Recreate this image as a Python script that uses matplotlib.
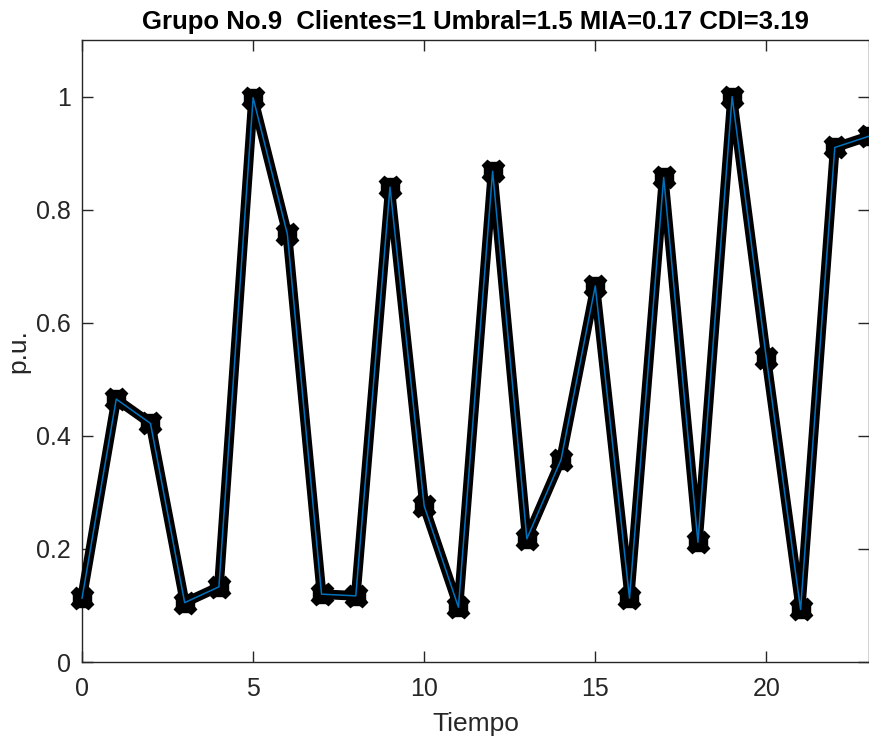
import matplotlib
matplotlib.use("Agg")
import matplotlib.pyplot as plt
from matplotlib.ticker import FuncFormatter

# Load profile of group 9 over time
tiempo = list(range(24))
carga = [0.113, 0.465, 0.422, 0.105, 0.133, 0.998, 0.757, 0.120, 0.117, 0.840,
         0.276, 0.097, 0.868, 0.218, 0.358, 0.665, 0.113, 0.857, 0.212, 1.000,
         0.537, 0.093, 0.910, 0.930]
xticks = [0, 5, 10, 15, 20]
yticks = [0, 0.2, 0.4, 0.6, 0.8, 1.0]
titulo = "Grupo No.9  Clientes=1 Umbral=1.5 MIA=0.17 CDI=3.19"

plt.rcParams['font.family'] = ['Liberation Sans', 'DejaVu Sans']

fig = plt.figure(figsize=(8.69, 7.42), dpi=100)
ax = fig.add_axes([0.0944, 0.1078, 0.9056, 0.8382])

# thick black trace with rounded markers, thin blue line on top
ax.plot(tiempo, carga, color='black', linewidth=7, solid_joinstyle='round',
        zorder=3, clip_on=False)
ax.plot(tiempo, carga, linestyle='none', marker='8', markersize=14,
        color='black', zorder=3, clip_on=False)
ax.plot(tiempo, carga, linestyle='none', marker='X', markersize=16,
        color='black', zorder=3, clip_on=False)
ax.plot(tiempo, carga, color='#0072BD', linewidth=1.1, zorder=4, clip_on=False)

ax.set_xlim(0, 23)
ax.set_ylim(0, 1.1)
ax.set_xticks(xticks)
ax.set_yticks(yticks)
ax.yaxis.set_major_formatter(FuncFormatter(lambda v, p: f"{v:g}"))

axc = '#262626'
for s in ax.spines.values():
    s.set_color(axc)
    s.set_linewidth(1.0)
ax.tick_params(direction='in', length=8, width=1.0, colors=axc, labelsize=18,
               top=True, right=True, pad=8)
ax.tick_params(axis='x', pad=11)
for lab in ax.get_xticklabels() + ax.get_yticklabels():
    lab.set_color(axc)

ax.set_xlabel("Tiempo", fontsize=19, color=axc, labelpad=8)
ax.set_ylabel("p.u.", fontsize=19, color=axc, labelpad=4)
ax.set_title(titulo, fontsize=18.5, fontweight='bold', color='black', pad=8)

fig.savefig("out.png", dpi=100)
